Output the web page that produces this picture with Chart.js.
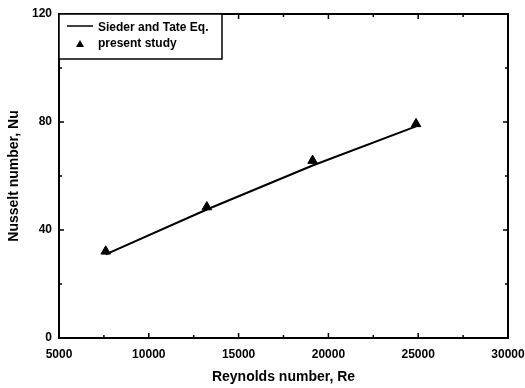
<!DOCTYPE html>
<html>
<head>
<meta charset="utf-8">
<script src="https://cdn.jsdelivr.net/npm/chart.js@4/dist/chart.umd.min.js"></script>
<style>
  body { margin: 0; background: #fff; }
  #wrap { width: 525px; height: 388px; }
</style>
</head>
<body>
<div id="wrap"><canvas id="nuChart" width="525" height="388"></canvas></div>
<script>
// data
const reynolds = [7600, 13230, 19120, 24880];
const nuPresent = [32.1, 48.5, 65.7, 79.3];
const reLine = [7600, 13230, 19120, 24880];
const nuSiederTate = [31.0, 47.6, 63.9, 78.4];
const xTicks = [5000, 10000, 15000, 20000, 25000, 30000];
const yTicks = [0, 40, 80, 120];

const fontFam = '"Liberation Sans", Arial, sans-serif';

// frame, inward ticks and legend drawn on the chart area
const framePlugin = {
    id: 'frame',
    afterDraw(chart) {
        const ctx = chart.ctx;
        const a = chart.chartArea;
        const xs = chart.scales.x, ys = chart.scales.y;
        ctx.save();
        ctx.strokeStyle = '#000';
        ctx.lineWidth = 2;
        ctx.strokeRect(a.left, a.top, a.right - a.left, a.bottom - a.top);
        ctx.lineWidth = 1.5;
        ctx.beginPath();
        for (let v = xs.min; v <= xs.max; v += 2500) {
            const px = xs.getPixelForValue(v);
            const len = (v % 5000 === 0) ? 5 : 3;
            ctx.moveTo(px, a.bottom); ctx.lineTo(px, a.bottom - len);
            ctx.moveTo(px, a.top); ctx.lineTo(px, a.top + len);
        }
        for (let v = ys.min; v <= ys.max; v += 20) {
            const py = ys.getPixelForValue(v);
            const len = (v % 40 === 0) ? 5 : 3;
            ctx.moveTo(a.left, py); ctx.lineTo(a.left + len, py);
            ctx.moveTo(a.right, py); ctx.lineTo(a.right - len, py);
        }
        ctx.stroke();

        // legend box
        const bx = a.left, by = a.top, bw = 163, bh = 45;
        ctx.fillStyle = '#fff';
        ctx.fillRect(bx, by, bw, bh);
        ctx.lineWidth = 1.5;
        ctx.strokeRect(bx, by, bw, bh);
        ctx.fillStyle = '#000';
        ctx.font = 'bold 12px ' + fontFam;
        ctx.textBaseline = 'middle';
        const ds = chart.data.datasets;
        // line sample
        ctx.lineWidth = 1.5;
        ctx.beginPath();
        ctx.moveTo(bx + 8, by + 12); ctx.lineTo(bx + 34, by + 12);
        ctx.stroke();
        ctx.fillText(ds[0].label, bx + 39, by + 14);
        // triangle sample
        const tx = bx + 21, ty = by + 30;
        ctx.beginPath();
        ctx.moveTo(tx, ty - 4); ctx.lineTo(tx + 4, ty + 3); ctx.lineTo(tx - 4, ty + 3);
        ctx.closePath();
        ctx.fill();
        ctx.fillText(ds[1].label, bx + 39, by + 30);
        ctx.restore();
    }
};

const ctx = document.getElementById('nuChart').getContext('2d');
const nuChart = new Chart(ctx, {
    type: 'scatter',
    data: {
        datasets: [{
            label: 'Sieder and Tate Eq.',
            data: reLine.map((r, i) => ({ x: r, y: nuSiederTate[i] })),
            showLine: true,
            borderColor: '#000',
            borderWidth: 2,
            pointRadius: 0,
            tension: 0
        }, {
            label: 'present study',
            data: reynolds.map((r, i) => ({ x: r, y: nuPresent[i] })),
            showLine: false,
            pointStyle: 'triangle',
            pointRadius: 5.5,
            backgroundColor: '#000',
            borderColor: '#000',
            borderWidth: 1
        }]
    },
    options: {
        responsive: false,
        animation: false,
        layout: { padding: { top: 14, right: 17, left: 0, bottom: 0 } },
        plugins: {
            legend: { display: false },
            tooltip: { enabled: false }
        },
        scales: {
            x: {
                type: 'linear',
                min: 5000,
                max: 30000,
                afterBuildTicks: s => { s.ticks = xTicks.map(v => ({ value: v })); },
                afterFit: s => { s.height = 50; s.paddingLeft = 0; s.paddingRight = 0; },
                grid: { display: false, drawTicks: false },
                border: { display: false },
                ticks: {
                    padding: 9,
                    color: '#000',
                    maxRotation: 0,
                    font: { family: fontFam, size: 12, weight: 'bold' },
                    callback: v => String(v)
                },
                title: {
                    display: true,
                    text: 'Reynolds number, Re',
                    color: '#000',
                    font: { family: fontFam, size: 14, weight: 'bold' },
                    padding: { top: 0, bottom: 2 }
                }
            },
            y: {
                min: 0,
                max: 120,
                afterBuildTicks: s => { s.ticks = yTicks.map(v => ({ value: v })); },
                afterFit: s => { s.width = 59; s.paddingTop = 0; s.paddingBottom = 0; },
                grid: { display: false, drawTicks: false },
                border: { display: false },
                ticks: {
                    padding: 7,
                    color: '#000',
                    font: { family: fontFam, size: 12, weight: 'bold' }
                },
                title: {
                    display: true,
                    text: 'Nusselt number, Nu',
                    color: '#000',
                    font: { family: fontFam, size: 14, weight: 'bold' },
                    padding: { top: 6, bottom: 0 }
                }
            }
        }
    },
    plugins: [framePlugin]
});
</script>
</body>
</html>
